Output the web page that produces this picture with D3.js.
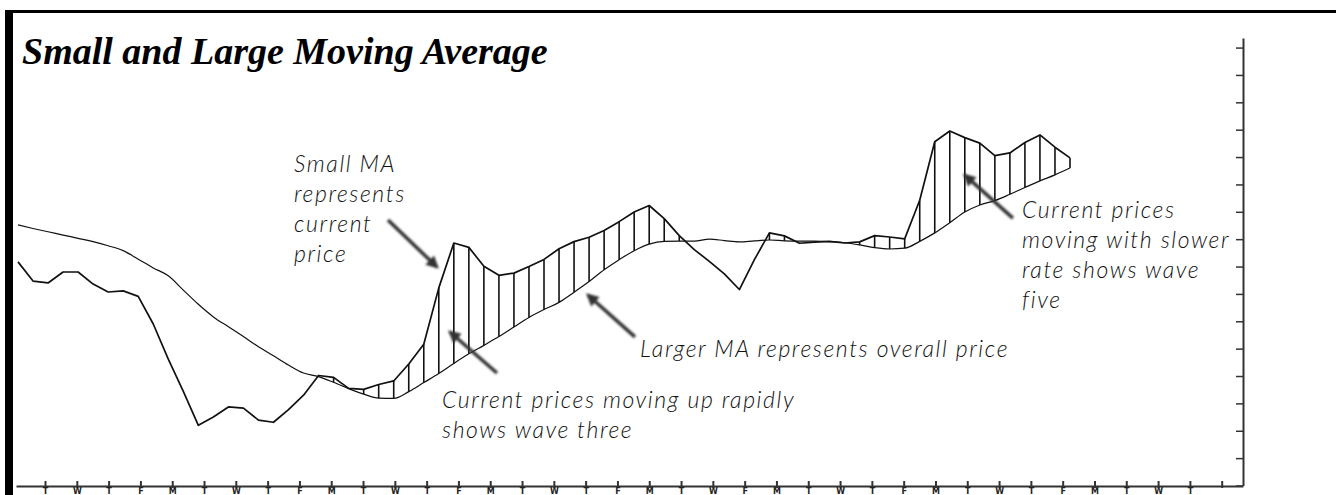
<!DOCTYPE html>
<html>
<head>
<meta charset="utf-8">
<script src="https://cdn.jsdelivr.net/npm/d3@7"></script>
<style>
  body { margin: 0; background: #fff; overflow: hidden; }
  .note { font-family: Lato, "Open Sans", sans-serif; font-style: italic; font-weight: 300; font-size: 23px; letter-spacing: 1.6px; fill: #111; }
</style>
</head>
<body>
<div id="chart"></div>
<script>
// trading day labels on the bottom axis (last tick has no label)
const dayLabels = ['T','W','T','F','M','T','W','T','F','M','T','W','T',
                   'F','M','T','W','T','F','M','T','W','F','M','T','W','T',
                   'F','M','T','W','T','F','M','T','W','T','']

// small (fast) moving average, one value per half session
const smallMA = [8.17, 7.47, 7.40, 7.80, 7.80, 7.36, 7.07, 7.11, 6.91, 5.90,
                 4.62, 3.44, 2.20, 2.50, 2.87, 2.83, 2.39, 2.31, 2.77, 3.30,
                 4.02, 3.95, 3.55, 3.51, 3.69, 3.82, 4.44, 5.16, 7.22, 8.86,
                 8.70, 8.01, 7.68, 7.76, 8.00, 8.26, 8.65, 8.91, 9.07, 9.32,
                 9.64, 9.99, 10.23, 9.75, 9.13, 8.62, 8.19, 7.73, 7.16, 8.25,
                 9.23, 9.12, 8.85, 8.89, 8.92, 8.86, 8.90, 9.13, 9.08, 9.01,
                 10.42, 12.56, 12.95, 12.71, 12.51, 12.05, 12.15, 12.53, 12.81, 12.36,
                 11.97]

// large (slow) moving average
const largeMA = [9.52, 9.39, 9.27, 9.15, 9.03, 8.91, 8.76, 8.58, 8.27, 7.95,
                 7.66, 7.14, 6.62, 6.16, 5.80, 5.44, 5.07, 4.74, 4.40, 4.11,
                 3.98, 3.77, 3.54, 3.34, 3.19, 3.18, 3.43, 3.76, 4.09, 4.46,
                 4.81, 5.12, 5.44, 5.79, 6.14, 6.43, 6.69, 7.06, 7.45, 7.88,
                 8.25, 8.58, 8.82, 8.92, 8.93, 8.93, 9.00, 8.95, 8.90, 8.94,
                 8.97, 8.94, 8.93, 8.93, 8.91, 8.87, 8.79, 8.69, 8.64, 8.67,
                 8.92, 9.23, 9.60, 9.99, 10.25, 10.41, 10.64, 10.89, 11.13, 11.35,
                 11.60]

let width = 1336
let height = 495

let svg = d3.select('#chart')
    .append('svg')
    .attr('width', width)
    .attr('height', height)

let defs = svg.append('defs')
defs.append('filter')
    .attr('id', 'soft')
    .append('feGaussianBlur')
    .attr('stdDeviation', 0.9)
defs.append('marker')
    .attr('id', 'head')
    .attr('viewBox', '0 0 10 10')
    .attr('refX', 8)
    .attr('refY', 5)
    .attr('markerWidth', 4)
    .attr('markerHeight', 3.6)
    .attr('orient', 'auto')
    .append('path')
    .attr('d', 'M0,0L10,5L0,10z')
    .attr('fill', '#333')

// frame
svg.append('rect').attr('x', 5).attr('y', 10).attr('width', width - 5).attr('height', 3).attr('fill', '#000')
svg.append('rect').attr('x', 5).attr('y', 10).attr('width', 8).attr('height', height - 10).attr('fill', '#000')

svg.append('text')
    .attr('x', 22)
    .attr('y', 64)
    .style('font-family', '"Liberation Serif", "Times New Roman", serif')
    .style('font-weight', 'bold')
    .style('font-style', 'italic')
    .style('font-size', '38px')
    .text('Small and Large Moving Average')

// scales
let xDay = d3.scaleLinear()
    .domain([-0.912, 37.67])
    .range([16, 1243])

let xs = d3.scaleLinear()
    .domain([0, smallMA.length - 1])
    .range([18, 1070])

let y = d3.scaleLinear()
    .domain([0, 16.35])
    .range([485.5, 38])

// axes
let xAxis = d3.axisBottom(xDay)
    .tickValues(d3.range(dayLabels.length))
    .tickFormat(i => dayLabels[i])
    .tickSizeInner(-5)
    .tickSizeOuter(0)
    .tickPadding(2.5)

let gx = svg.append('g')
    .attr('transform', `translate(0,${486})`)
    .call(xAxis)
gx.select('.domain').attr('stroke', '#333').attr('stroke-width', 2)
gx.selectAll('.tick line').attr('stroke', '#333').attr('stroke-width', 2).attr('y2', -5).attr('y1', 2)
gx.selectAll('.tick text')
    .style('font-family', '"DejaVu Sans", sans-serif')
    .style('font-weight', 'bold')
    .style('font-size', '8px')
    .attr('fill', '#222')

let yAxis = d3.axisLeft(y)
    .tickValues(d3.range(0, 17))
    .tickFormat('')
    .tickSizeInner(7)
    .tickSizeOuter(0)

let gy = svg.append('g')
    .attr('transform', `translate(${1243},0)`)
    .call(yAxis)
gy.select('.domain').attr('stroke', '#333').attr('stroke-width', 2)
gy.selectAll('.tick line').attr('stroke', '#333').attr('stroke-width', 1.5)

// hatching where the small MA is above the large MA
let idx = d3.range(smallMA.length).filter(i => smallMA[i] > largeMA[i])
svg.append('g')
    .selectAll('line')
    .data(idx)
    .enter()
    .append('line')
    .attr('x1', i => xs(i))
    .attr('x2', i => xs(i))
    .attr('y1', i => y(smallMA[i]))
    .attr('y2', i => y(largeMA[i]))
    .attr('stroke', '#111')
    .attr('stroke-width', 1.6)

let smooth = d3.line()
    .x((d, i) => xs(i))
    .y(d => y(d))
    .curve(d3.curveMonotoneX)

let jagged = d3.line()
    .x((d, i) => xs(i))
    .y(d => y(d))

svg.append('path')
    .datum(largeMA)
    .attr('d', smooth)
    .attr('fill', 'none')
    .attr('stroke', '#111')
    .attr('stroke-width', 1.2)

svg.append('path')
    .datum(smallMA)
    .attr('d', jagged)
    .attr('fill', 'none')
    .attr('stroke', '#111')
    .attr('stroke-width', 1.7)
    .attr('stroke-linejoin', 'round')

// annotations: arrows given in data units (index, value)
let arrows = [
    [[24.62, 9.70], [27.88, 7.98]],
    [[31.87, 4.11], [28.74, 5.61]],
    [[41.05, 5.43], [37.92, 6.96]],
    [[66.2, 9.77], [63.0, 11.34]]
]
svg.append('g')
    .selectAll('line')
    .data(arrows)
    .enter()
    .append('line')
    .attr('x1', d => xs(d[0][0]))
    .attr('y1', d => y(d[0][1]))
    .attr('x2', d => xs(d[1][0]))
    .attr('y2', d => y(d[1][1]))
    .attr('stroke', '#333')
    .attr('stroke-width', 3.5)
    .attr('marker-end', 'url(#head)')
    .attr('filter', 'url(#soft)')

let notes = [
    { x: 294, y: 172, lines: ['Small MA', 'represents', 'current', 'price'] },
    { x: 442, y: 408, lines: ['Current prices moving up rapidly', 'shows wave three'] },
    { x: 640, y: 357, lines: ['Larger MA represents overall price'] },
    { x: 1022, y: 218, lines: ['Current prices', 'moving with slower', 'rate shows wave', 'five'] }
]
notes.forEach(n => {
    let t = svg.append('text').attr('class', 'note')
    n.lines.forEach((s, k) => {
        t.append('tspan').attr('x', n.x).attr('y', n.y + k * 30).text(s)
    })
})
</script>
</body>
</html>
